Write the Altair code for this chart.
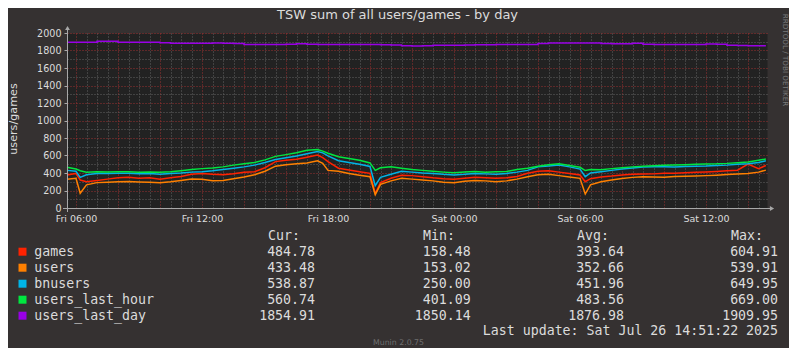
import altair as alt
import pandas as pd

# ---------------- data (hours since Fri 2025-07-25 00:00) ----------------
hours = [5.57, 6.0, 6.2, 6.5, 7.0, 7.5, 8.0, 8.5, 9.0, 9.5, 10.0, 10.5, 11.0, 11.5,
         12.0, 12.5, 13.0, 13.5, 14.0, 14.5, 15.0, 15.5, 16.0, 16.5, 17.0, 17.5, 17.75,
         18.0, 18.5, 19.0, 19.5, 20.0, 20.25, 20.5, 21.0, 21.5, 22.0, 22.5, 23.0, 23.5,
         24.0, 24.5, 25.0, 25.5, 26.0, 26.5, 27.0, 27.5, 28.0, 28.5, 29.0, 29.5, 30.0,
         30.25, 30.5, 31.0, 31.5, 32.0, 32.5, 33.0, 33.5, 34.0, 34.5, 35.0, 35.5, 36.0,
         36.5, 37.0, 37.5, 38.0, 38.5, 38.85]

games = [377, 395, 320, 300, 315, 330, 345, 350, 340, 345, 328, 345, 360, 385,
         395, 385, 380, 392, 408, 415, 460, 530, 545, 556, 580, 605, 575,
         530, 455, 435, 415, 396, 165, 290, 340, 375, 370, 358, 345, 335,
         328, 340, 350, 345, 339, 345, 360, 396, 420, 427, 410, 395, 377,
         300, 335, 355, 365, 378, 385, 389, 390, 396, 398, 402, 408, 412,
         418, 425, 432, 503, 450, 485]

users = [328, 340, 168, 265, 290, 295, 300, 302, 298, 295, 290, 300, 315, 330,
         328, 312, 315, 335, 355, 380, 420, 478, 495, 505, 515, 540, 510,
         430, 420, 395, 375, 358, 153, 270, 310, 340, 330, 320, 310, 295,
         290, 305, 315, 310, 301, 310, 330, 358, 380, 385, 370, 355, 339,
         160, 265, 300, 320, 338, 350, 358, 355, 351, 360, 364, 366, 370,
         375, 382, 389, 395, 410, 433]

bnusers = [430, 420, 350, 380, 395, 395, 398, 396, 392, 395, 385, 395, 400, 410,
           415, 425, 440, 455, 470, 490, 520, 555, 575, 595, 620, 645, 630,
           595, 540, 520, 500, 475, 255, 350, 385, 420, 410, 400, 395, 385,
           378, 385, 395, 390, 385, 395, 410, 430, 470, 480, 490, 470, 445,
           358, 400, 415, 430, 445, 458, 468, 472, 472, 470, 474, 478, 480,
           485, 490, 500, 505, 520, 539]

users_last_hour = [465, 445, 425, 410, 415, 412, 415, 415, 410, 412, 408, 415, 427, 440,
                   450, 458, 470, 490, 505, 520, 550, 590, 610, 632, 660, 669, 650,
                   625, 585, 565, 545, 515, 430, 460, 472, 455, 440, 430, 420, 410,
                   402, 412, 418, 410, 415, 418, 440, 455, 478, 495, 505, 485, 465,
                   428, 440, 438, 450, 460, 470, 478, 482, 488, 492, 495, 500, 503,
                   505, 510, 518, 525, 545, 560]

users_last_day = [1894, 1894, 1894, 1894, 1905, 1905, 1894, 1894, 1894, 1894, 1890, 1882, 1884, 1882,
                  1882, 1885, 1882, 1880, 1870, 1870, 1870, 1868, 1872, 1878, 1872, 1870, 1870,
                  1870, 1870, 1870, 1870, 1870, 1868, 1865, 1862, 1855, 1852, 1855, 1860, 1860,
                  1860, 1862, 1866, 1866, 1868, 1868, 1868, 1868, 1880, 1886, 1886, 1886, 1886,
                  1886, 1886, 1880, 1876, 1878, 1882, 1872, 1870, 1870, 1870, 1870, 1870, 1874,
                  1872, 1860, 1858, 1855, 1855, 1855]

series_names = ["games", "users", "bnusers", "users_last_hour", "users_last_day"]
series_colors = ["#ff2200", "#ff8000", "#00b4e6", "#00e640", "#9900e6"]
cur_vals = ["484.78", "433.48", "538.87", "560.74", "1854.91"]
min_vals = ["158.48", "153.02", "250.00", "401.09", "1850.14"]
avg_vals = ["393.64", "352.66", "451.96", "483.56", "1876.98"]
max_vals = ["604.91", "539.91", "649.95", "669.00", "1909.95"]

title_text = "TSW sum of all users/games - by day"
y_title = "users/games"
last_update = "Last update: Sat Jul 26 14:51:22 2025"
side_text = "RRDTOOL / TOBI OETIKER"
footer_text = "Munin 2.0.75"

y_ticks = list(range(0, 2001, 200))
y_minor = list(range(100, 2000, 200))
x_label_hours = [6, 12, 18, 24, 30, 36]
x_major_hours = list(range(6, 39, 2))
x_minor_hours = [6 + 0.5 * k for k in range(66) if (6 + 0.5 * k) % 2 != 0]

# ---------------- helpers ----------------
T0 = pd.Timestamp("2025-07-25 00:00:00")


def dtime(h):
    ts = T0 + pd.Timedelta(hours=h)
    return alt.DateTime(year=int(ts.year), month=int(ts.month), date=int(ts.day),
                        hours=int(ts.hour), minutes=int(ts.minute), seconds=int(ts.second))


wide = pd.DataFrame({"h": hours, "games": games, "users": users, "bnusers": bnusers,
                     "users_last_hour": users_last_hour, "users_last_day": users_last_day})
long = wide.melt(id_vars="h", var_name="series", value_name="value")
long["time"] = (T0 + pd.to_timedelta(long["h"], unit="h")).dt.strftime("%Y-%m-%dT%H:%M:%S")
long = long.drop(columns="h")

x_scale = alt.Scale(domain=[dtime(5 + 34 / 60 + 17 / 3600), dtime(38 + 54 / 60 + 17 / 3600)])
y_scale = alt.Scale(domain=[0, 2000], nice=False)
color_scale = alt.Scale(domain=series_names, range=series_colors)

FONT = "DejaVu Sans"
MONO = "DejaVu Sans Mono"
TXT = "#dcdcdc"
AXC = "#a8a8a8"
MINOR = "#626262"
MAJOR = "#9a3030"

base = alt.Chart(long)


def grid_axis_x(hrs, color):
    return alt.Axis(values=[dtime(h) for h in hrs], grid=True, gridColor=color, gridDash=[1, 2],
                    gridWidth=1, gridOpacity=1, labels=False, ticks=False, domain=False,
                    title=None, orient="bottom")


def grid_axis_y(vals, color):
    return alt.Axis(values=vals, grid=True, gridColor=color, gridDash=[1, 2], gridWidth=1,
                    gridOpacity=1, labels=False, ticks=False, domain=False, title=None,
                    orient="left")


grid_minor = base.mark_point(opacity=0).encode(
    x=alt.X("time:T", scale=x_scale, axis=grid_axis_x(x_minor_hours, MINOR)),
    y=alt.Y("value:Q", scale=y_scale, axis=grid_axis_y(y_minor, MINOR)),
)
grid_major = base.mark_point(opacity=0).encode(
    x=alt.X("time:T", scale=x_scale, axis=grid_axis_x(x_major_hours, MAJOR)),
    y=alt.Y("value:Q", scale=y_scale, axis=grid_axis_y(y_ticks, MAJOR)),
)

main_x = alt.Axis(values=[dtime(h) for h in x_label_hours], format="%a %H:%M", formatType="time",
                  labelFont=FONT, labelFontSize=9.5, labelColor=TXT, labelPadding=5,
                  labelFlush=False, labelOverlap=False, ticks=False, domain=False, grid=False,
                  title=None, orient="bottom")
main_y = alt.Axis(values=y_ticks, format="d", labelFont=FONT, labelFontSize=9.6, labelColor=TXT,
                  labelPadding=3, ticks=True, tickSize=3, tickColor=AXC, domain=False,
                  grid=False, title=None, orient="left")

lines = []
for i, name in enumerate(series_names):
    interp = "step-after" if name == "users_last_day" else "linear"
    lines.append(
        base.transform_filter(alt.datum.series == name)
        .mark_line(strokeWidth=1.5, interpolate=interp)
        .encode(
            x=alt.X("time:T", scale=x_scale, axis=main_x if i == 0 else None),
            y=alt.Y("value:Q", scale=y_scale, axis=main_y if i == 0 else None),
            color=alt.Color("series:N", scale=color_scale, legend=None),
        )
    )

one = alt.Data(values=[{"k": 0}])

y_line = alt.Chart(one).mark_rule(color=AXC, strokeWidth=1).encode(
    x=alt.value(0.5), y=alt.value(-6), y2=alt.value(179))
x_line = alt.Chart(one).mark_rule(color=AXC, strokeWidth=1).encode(
    x=alt.value(-4), x2=alt.value(704), y=alt.value(175.5), )
arrow_up = alt.Chart(one).mark_point(shape="triangle-up", filled=True, size=24, color=AXC,
                                     opacity=1).encode(x=alt.value(0.5), y=alt.value(-5))
arrow_right = alt.Chart(one).mark_point(shape="triangle-right", filled=True, size=24, color=AXC,
                                        opacity=1).encode(x=alt.value(705), y=alt.value(175.5))


def label(text, x, y, size, color=TXT, font=FONT, align="center", angle=0):
    return alt.Chart(one).mark_text(text=text, font=font, fontSize=size, color=color, align=align,
                                    baseline="middle", angle=angle).encode(
        x=alt.value(x), y=alt.value(y))


texts = [
    label(title_text, 330.5, -18.5, 13),
    label(y_title, -53.5, 86, 11.2, angle=270),
    label(side_text, 717.5, 27, 7.2, color="#7a7a7a", angle=90),
    label("Cur:", 201, 203, 13.25, font=MONO, align="left"),
    label("Min:", 356, 203, 13.25, font=MONO, align="left"),
    label("Avg:", 510, 203, 13.25, font=MONO, align="left"),
    label("Max:", 664, 203, 13.25, font=MONO, align="left"),
    label(last_update, 711, 298.3, 13.25, font=MONO, align="right"),
    label(footer_text, 331.5, 310, 7.8, color="#6e6e6e"),
]

leg = pd.DataFrame({"series": series_names, "row": list(range(len(series_names))),
                    "cur": cur_vals, "min": min_vals, "avg": avg_vals, "max": max_vals})
leg_base = alt.Chart(leg).transform_calculate(py="218.7 + 16 * datum.row")
py = alt.Y("py:Q", scale=None, axis=None)

leg_layers = [
    leg_base.mark_square(size=64, opacity=1).encode(
        x=alt.value(-44.5), y=py, color=alt.Color("series:N", scale=color_scale, legend=None)),
    leg_base.mark_text(font=MONO, fontSize=13.25, color=TXT, align="left", baseline="middle").encode(
        x=alt.value(-32.7), y=py, text="series:N"),
]
for col, xr in [("cur", 248), ("min", 403.7), ("avg", 557), ("max", 711)]:
    leg_layers.append(
        leg_base.mark_text(font=MONO, fontSize=13.25, color=TXT, align="right", baseline="middle").encode(
            x=alt.value(xr), y=py, text=f"{col}:N"))

chart = (
    alt.layer(grid_minor, grid_major, *lines, y_line, x_line, arrow_up, arrow_right, *texts, *leg_layers)
    .resolve_axis(x="independent", y="independent")
    .properties(width=700, height=175,
                padding={"left": 59, "top": 25, "right": 22, "bottom": 140},
                autosize=alt.AutoSizeParams(type="none"),
                background="#353131")
    .configure_view(fill="#222222", stroke="transparent")
)

chart.save("out.html", embed_options={"renderer": "svg", "actions": False})
